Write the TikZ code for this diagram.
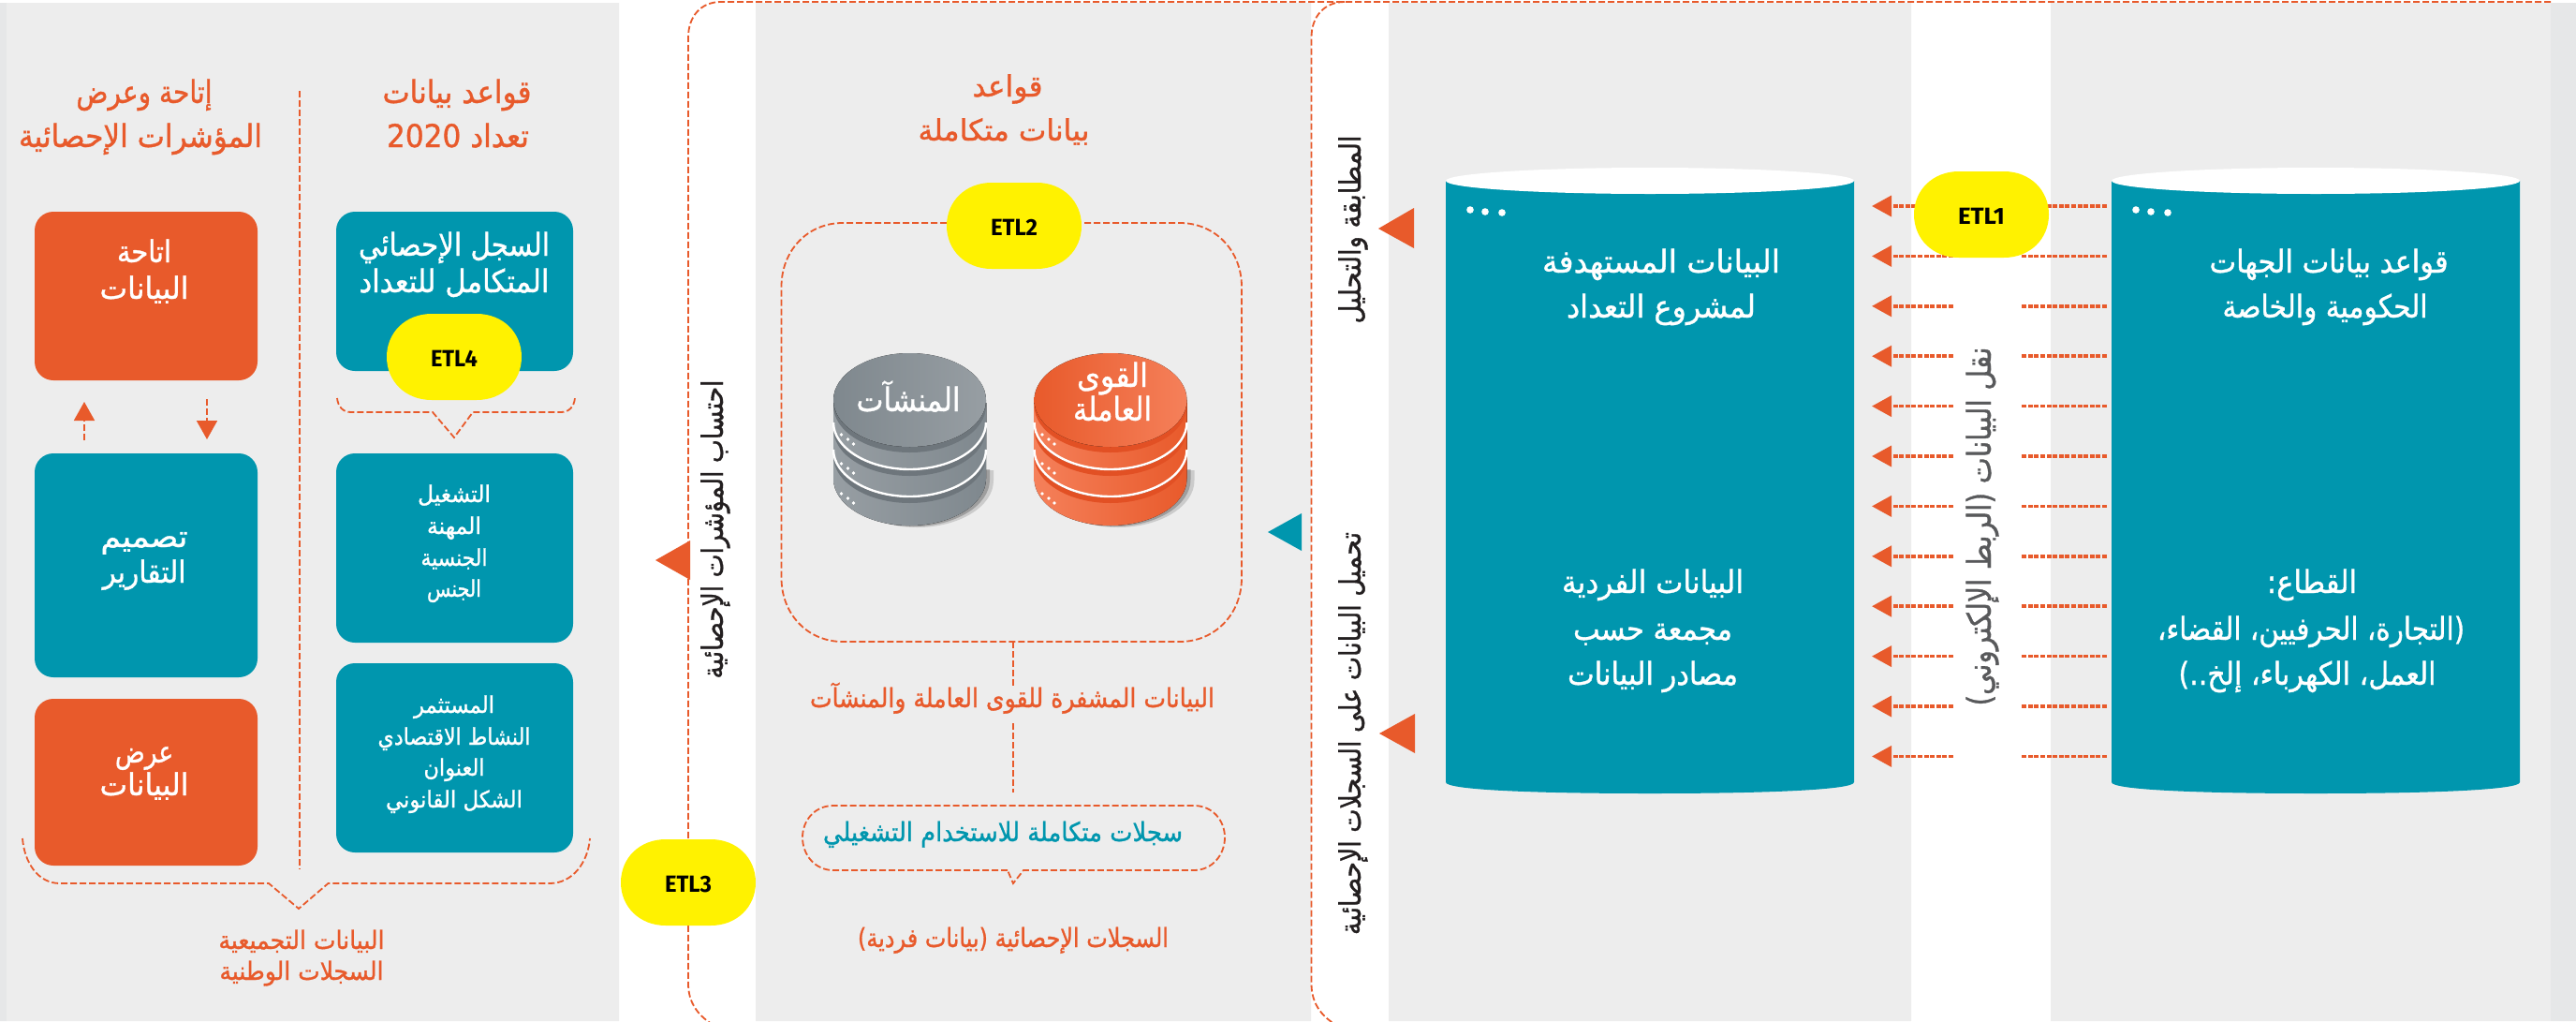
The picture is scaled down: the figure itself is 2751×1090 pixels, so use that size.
\documentclass[tikz,border=0pt]{standalone}
\usepackage{fontspec}
\usepackage{graphicx}
\usetikzlibrary{arrows.meta}
\TeXXeTstate=1
\newfontfamily\arfont[Script=Arabic,FakeBold=1.1]{DejaVu Sans}
\newfontfamily\etlfont{Fira Sans}
\definecolor{tealc}{RGB}{0,150,174}
\definecolor{orangec}{RGB}{232,90,43}
\definecolor{yellowc}{RGB}{255,242,0}
\definecolor{panelc}{RGB}{237,237,237}
\definecolor{stripc}{RGB}{230,231,232}
\definecolor{inkc}{RGB}{35,31,32}
\definecolor{inkg}{RGB}{88,89,91}
\definecolor{grayL}{RGB}{151,158,163}
\definecolor{grayD}{RGB}{127,136,142}
\definecolor{grayB}{RGB}{110,118,124}
\definecolor{orgL}{RGB}{245,128,90}
\definecolor{orgB}{RGB}{226,80,36}
\newcommand{\artx}[2]{\resizebox{#1pt}{1.12\height}{\arfont #2}}
% one cylinder part of the small database stacks
\newcommand{\dbpart}[3]{\fill[#1] (-81.5,#3) -- (-81.5,#2) .. controls (-81.5,#2+27.6) and (-45,#2+50) .. (0,#2+50) .. controls (45,#2+50) and (81.5,#2+27.6) .. (81.5,#2) -- (81.5,#3) -- cycle;}
\newcommand{\dbdots}[1]{\fill[white] (-73,#1) circle (1.8) (-66,#1+5) circle (1.8) (-60,#1+10) circle (1.8);}
\newcommand{\dbstack}[5]{%
\begin{scope}[shift={(#1,0)}]
\begin{scope}[shift={(8,2)}]\dbpart{black,opacity=.14}{511}{500}\end{scope}
\begin{scope}[shift={(4,1)}]\dbpart{black,opacity=.22}{511}{500}\end{scope}
\dbpart{left color=#2,right color=#3}{511}{430}
\dbpart{fill=#4}{487}{430}
\dbpart{left color=#2,right color=#3}{481}{430}
\draw[white,line width=2.4] (-81.5,480) .. controls (-81.5,507) and (-45,530) .. (0,530) .. controls (45,530) and (81.5,507) .. (81.5,480);
\dbpart{fill=#4}{458}{430}
\dbpart{left color=#2,right color=#3}{452}{430}
\draw[white,line width=2.4] (-81.5,451) .. controls (-81.5,478) and (-45,501) .. (0,501) .. controls (45,501) and (81.5,478) .. (81.5,451);
\dbpart{fill=#5}{433}{427}
\fill[left color=#3,right color=#2] (0,427) ellipse [x radius=81.5,y radius=50];
\dbdots{464}\dbdots{495}\dbdots{527}
\end{scope}}
% yellow ETL badge: #1 name, #2 x, #3 y, #4 text
\newcommand{\etlbadge}[4]{%
\fill[yellowc] (#2-24,#3-46) .. controls (#2-52,#3-46) and (#2-72,#3-26) .. (#2-72,#3) .. controls (#2-72,#3+26) and (#2-52,#3+46) .. (#2-24,#3+46) -- (#2+24,#3+46) .. controls (#2+52,#3+46) and (#2+72,#3+26) .. (#2+72,#3) .. controls (#2+72,#3-26) and (#2+52,#3-46) .. (#2+24,#3-46) -- cycle;
\node[inner sep=0,font=\etlfont\bfseries\fontsize{25}{25}\selectfont,text=black] (#1) at (#2,#3+2) {\resizebox{50pt}{\height}{#4}};}
\newcommand{\dbcan}[3]{% x0, x1, name
\path[fill=tealc] (#1,193) -- (#1,835) .. controls (#1,843) and (#1+90,847) .. ({(#1+#2)/2},847) .. controls (#2-90,847) and (#2,843) .. (#2,835) -- (#2,193) -- cycle;
\fill[white] ({(#1+#2)/2},193) ellipse [x radius={(#2-#1)/2},y radius=14];
\node[inner sep=0,minimum width=0,minimum height=0] (#3) at ({(#1+#2)/2},520) {};
\fill[white] (#1+26,224) circle (3.8) (#1+42,226) circle (3.8) (#1+60,227) circle (3.8);}
\tikzset{
 tx/.style={inner sep=0,anchor=center,text height=1.1em,text depth=.1em,font=\fontsize{#1}{#1}\selectfont},
 whitetx/.style={tx=#1,text=white},
 orangetx/.style={tx=#1,text=orangec},
 sidetx/.style={tx=#1,text=inkc,rotate=90},
 roundbox/.style={inner sep=0,rounded corners=20pt},
 thindash/.style={draw=orangec,line width=1.8,dash pattern=on 7pt off 3pt},
 linkdash/.style={draw=orangec,line width=3.6,dash pattern=on 5pt off 1.6pt},
 headtip/.style={-{Triangle[length=#1,width=22pt]}},
}
\begin{document}
\begin{tikzpicture}[x=1pt,y=-1pt]
\useasboundingbox (0,0) rectangle (2751,1090);
\clip (0,0) rectangle (2751,1090);
\fill[white] (0,0) rectangle (2751,1090);
\fill[stripc] (0,3) rectangle (7,1090) (2724,3) rectangle (2751,1090);
\fill[panelc] (7,3) rectangle (661,1090) (807,3) rectangle (1400,1090) (1483,3) rectangle (2041,1090) (2190,3) rectangle (2724,1090);

% frames
\draw[thindash] (2724,2) -- (770,2) .. controls (748,2) and (735,18) .. (735,40) -- (735,1050) .. controls (735,1070) and (745,1085) .. (765,1096);
\draw[thindash] (1436,2) .. controls (1414,2) and (1400.5,18) .. (1400.5,40) -- (1400.5,1050) .. controls (1400.5,1070) and (1410,1085) .. (1430,1096);

% --- left section
\node[orangetx=30] (h1a) at (154,105) {\artx{145}{\beginR إتاحة وعرض\endR}};
\node[orangetx=30] (h1b) at (150,152) {\artx{260}{\beginR المؤشرات الإحصائية\endR}};
\node[orangetx=30] (h2a) at (488,105) {\artx{159}{\beginR قواعد بيانات\endR}};
\node[orangetx=30] (h2b) at (489,152) {\artx{152}{\beginR تعداد \beginL 2020\endL\endR}};
\coordinate (sepT) at (320,97);
\coordinate (sepB) at (320,928);
\draw[thindash] (sepT) -- (sepB);

\node[roundbox,fill=orangec,minimum width=238pt,minimum height=180pt] (b1) at (156,316) {};
\node[roundbox,fill=tealc,minimum width=238pt,minimum height=239pt] (b2) at (156,603.5) {};
\node[roundbox,fill=orangec,minimum width=238pt,minimum height=178pt] (b3) at (156,835) {};
\node[whitetx=29] (b1a) at (154,275) {\artx{58}{\beginR اتاحة\endR}};
\node[whitetx=29] (b1b) at (154,314) {\artx{95}{\beginR البيانات\endR}};
\node[whitetx=29] (b2a) at (154,579) {\artx{93}{\beginR تصميم\endR}};
\node[whitetx=29] (b2b) at (154,617) {\artx{89}{\beginR التقارير\endR}};
\node[whitetx=29] (b3a) at (154,809) {\artx{62}{\beginR عرض\endR}};
\node[whitetx=29] (b3b) at (154,844) {\artx{95}{\beginR البيانات\endR}};
\coordinate (upS) at (90,470);
\coordinate (upE) at (90,429);
\coordinate (dnS) at (221,426);
\coordinate (dnE) at (221,469);
\draw[thindash,headtip=20pt] (upS) -- (upE);
\draw[thindash,headtip=20pt] (dnS) -- (dnE);

\node[roundbox,fill=tealc,minimum width=253pt,minimum height=170pt] (c1) at (485.5,311) {};
\node[roundbox,fill=tealc,minimum width=253pt,minimum height=202pt] (c2) at (485.5,585) {};
\node[roundbox,fill=tealc,minimum width=253pt,minimum height=202pt] (c3) at (485.5,809) {};
\node[whitetx=30] (c1a) at (485,268) {\artx{204}{\beginR السجل الإحصائي\endR}};
\node[whitetx=30] (c1b) at (485,307) {\artx{203}{\beginR المتكامل للتعداد\endR}};
\node[whitetx=22] (c2a) at (485,531) {\artx{78}{\beginR التشغيل\endR}};
\node[whitetx=22] (c2b) at (485,565) {\artx{58}{\beginR المهنة\endR}};
\node[whitetx=22] (c2c) at (485,599) {\artx{71}{\beginR الجنسية\endR}};
\node[whitetx=22] (c2d) at (485,632) {\artx{58}{\beginR الجنس\endR}};
\node[whitetx=22] (c3a) at (485,756) {\artx{86}{\beginR المستثمر\endR}};
\node[whitetx=22] (c3b) at (485,790) {\artx{163}{\beginR النشاط الاقتصادي\endR}};
\node[whitetx=22] (c3c) at (485,823) {\artx{65}{\beginR العنوان\endR}};
\node[whitetx=22] (c3d) at (485,857) {\artx{146}{\beginR الشكل القانوني\endR}};
\etlbadge{etlfour}{485}{381}{ETL4}
\draw[thindash] (360,425) .. controls (361,434) and (366,440) .. (375,440) -- (462,440) -- (485,467) -- (505,440) -- (599,440) .. controls (608,440) and (613,434) .. (614,425);
\draw[thindash] (24,895) .. controls (26,920) and (40,943) .. (64,943) -- (287,943) -- (319,970) -- (350.5,943) -- (587,943) .. controls (612,943) and (628,920) .. (630,895);
\node[orangetx=24] (f1) at (322,1008) {\artx{177}{\beginR البيانات التجميعية\endR}};
\node[orangetx=24] (f2) at (322,1041) {\artx{175}{\beginR السجلات الوطنية\endR}};

% --- middle section
\fill[orangec] (700,598) -- (737,577) -- (737,619) -- cycle;
\node[sidetx=28] (s1) at (767,565) {\artx{319}{\beginR احتساب المؤشرات الإحصائية\endR}};
\etlbadge{etlthree}{735}{942}{ETL3}
\node[orangetx=28] (m1) at (1076,98) {\artx{75}{\beginR قواعد\endR}};
\node[orangetx=28] (m2) at (1072,145) {\artx{183}{\beginR بيانات متكاملة\endR}};
\draw[thindash] (1011,238) -- (900,238) .. controls (862,238) and (834.5,268) .. (834.5,306) -- (834.5,617) .. controls (834.5,655) and (862,685) .. (900,685) -- (1260,685) .. controls (1298,685) and (1326,655) .. (1326,617) -- (1326,306) .. controls (1326,268) and (1298,238) .. (1260,238) -- (1156,238);
\etlbadge{etltwo}{1083}{241}{ETL2}
\dbstack{971.5}{grayL}{grayD}{grayB}{grayB}
\dbstack{1186}{orgL}{orangec}{orgB}{orgB}
\node[whitetx=31] (d1) at (970,434) {\artx{111}{\beginR المنشآت\endR}};
\node[whitetx=31] (d2a) at (1188,408) {\artx{76}{\beginR القوى\endR}};
\node[whitetx=31] (d2b) at (1188,444) {\artx{84}{\beginR العاملة\endR}};
\coordinate (v1a) at (1082,685);
\coordinate (v1b) at (1082,732);
\coordinate (v2a) at (1082,772);
\coordinate (v2b) at (1082,846);
\draw[thindash] (v1a) -- (v1b);
\draw[thindash] (v2a) -- (v2b);
\node[orangetx=25] (m3) at (1081,750) {\artx{432}{\beginR البيانات المشفرة للقوى العاملة والمنشآت\endR}};
\draw[thindash] (1076,929) -- (890,929) .. controls (870,929) and (857,912) .. (857,894) .. controls (857,876) and (870,860) .. (890,860) -- (1275,860) .. controls (1295,860) and (1308,876) .. (1308,894) .. controls (1308,912) and (1295,929) .. (1275,929) -- (1093,929) -- (1082,943) -- cycle;
\node[tx=25,text=tealc] (m4) at (1071,893) {\artx{384}{\beginR سجلات متكاملة للاستخدام التشغيلي\endR}};
\node[orangetx=25] (m5) at (1082,1006) {\artx{332}{\beginR السجلات الإحصائية (بيانات فردية)\endR}};

% --- triangles and side labels
\fill[tealc] (1354,568) -- (1390,548) -- (1390,588) -- cycle;
\fill[orangec] (1472,244) -- (1510,222) -- (1510,265) -- cycle;
\fill[orangec] (1473,783) -- (1511,762) -- (1511,804) -- cycle;
\node[sidetx=28] (s2) at (1448,245) {\artx{201}{\beginR المطابقة والتحليل\endR}};
\node[sidetx=28] (s3) at (1448,783) {\artx{430}{\beginR تحميل البيانات على السجلات الإحصائية\endR}};

% --- cylinders
\dbcan{1544}{1980}{canA}
\dbcan{2255}{2691}{canB}
\node[whitetx=30] (a1) at (1774,286) {\artx{254}{\beginR البيانات المستهدفة\endR}};
\node[whitetx=30] (a2) at (1774,334) {\artx{202}{\beginR لمشروع التعداد\endR}};
\node[whitetx=30] (a3) at (1765,628) {\artx{194}{\beginR البيانات الفردية\endR}};
\node[whitetx=30] (a4) at (1765,678) {\artx{170}{\beginR مجمعة حسب\endR}};
\node[whitetx=30] (a5) at (1765,726) {\artx{182}{\beginR مصادر البيانات\endR}};
\node[whitetx=30] (e1) at (2487,286) {\artx{255}{\beginR قواعد بيانات الجهات\endR}};
\node[whitetx=30] (e2) at (2483,334) {\artx{219}{\beginR الحكومية والخاصة\endR}};
\node[whitetx=30] (e3) at (2469,628) {\artx{96}{\beginR القطاع:\endR}};
\node[whitetx=30] (e4) at (2468,678) {\artx{328}{\beginR (التجارة، الحرفيين، القضاء،\endR}};
\node[whitetx=30] (e5) at (2464,726) {\artx{275}{\beginR العمل، الكهرباء، إلخ..)\endR}};

% --- transfer arrows
\foreach \k in {0,...,11}{
 \pgfmathsetmacro{\yy}{220+53.4*\k}
 \coordinate (rS\k) at (2250,\yy);
 \coordinate (rE\k) at (2159,\yy);
 \coordinate (lS\k) at (2086,\yy);
 \coordinate (lE\k) at (1999,\yy);
 \draw[linkdash] (rS\k) -- (rE\k);
 \draw[linkdash,-{Triangle[length=21pt,width=22pt]}] (lS\k) -- (lE\k);
}
\node[tx=31,text=inkg,rotate=90] (s4) at (2121,562) {\artx{383}{\beginR نقل البيانات (الربط الإلكتروني)\endR}};
\etlbadge{etlone}{2116}{229}{ETL1}
\end{tikzpicture}
\end{document}
